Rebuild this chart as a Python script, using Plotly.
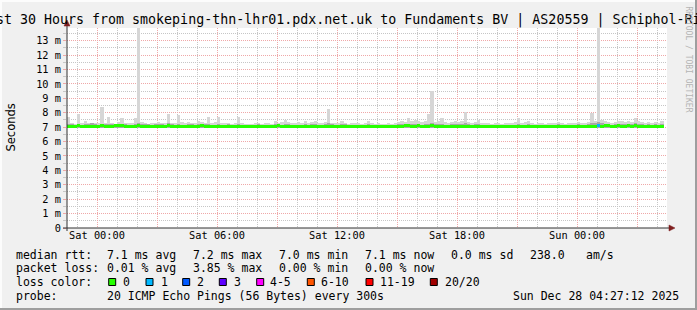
import plotly.graph_objects as go
import pandas as pd

# ---------------- data ----------------
series_start = "2025-12-26 22:35"   # centre of first 10-minute interval
step = "10min"
x_range = ["2025-12-26 22:30", "2025-12-28 04:30"]

# upper edge of the smoke (ms)
rtt_hi = [
    7.7, 7.3, 7.25, 7.9, 7.3, 7.4,
    7.28, 7.25, 7.3, 7.32, 8.4, 7.3,
    7.7, 7.3, 7.25, 7.35, 7.6, 7.3,
    7.28, 7.3, 7.6, 13.9, 7.35, 7.3,
    7.25, 7.3, 7.28, 7.35, 7.3, 7.32,
    7.9, 7.3, 7.3, 7.85, 7.35, 7.3,
    7.35, 7.3, 7.3, 7.4, 7.35, 7.3,
    7.67, 7.3, 7.35, 7.7, 7.3, 7.28,
    7.3, 7.25, 7.3, 7.67, 7.3, 7.25,
    7.2, 7.25, 7.3, 7.28, 7.25, 7.3,
    7.3, 7.25, 7.4, 7.3, 7.35, 7.5,
    7.35, 7.3, 7.3, 7.35, 7.3, 7.45,
    7.3, 7.35, 7.4, 7.3, 7.3, 7.35,
    8.27, 7.3, 7.3, 7.3, 7.4, 7.3,
    7.25, 7.3, 7.28, 7.3, 7.25, 7.3,
    7.4, 7.3, 7.25, 7.3, 7.25, 7.2,
    7.3, 7.25, 7.3, 7.35, 7.4, 7.35,
    7.6, 7.4, 7.5, 7.4, 7.35, 7.4,
    7.9, 9.54, 7.35, 7.4, 7.6, 7.35,
    7.3, 7.35, 7.4, 7.35, 7.4, 8.08,
    7.35, 7.3, 7.35, 7.5, 7.3, 7.28,
    7.3, 7.25, 7.3, 7.28, 7.25, 7.3,
    7.3, 7.28, 7.35, 7.6, 7.3, 7.35,
    7.43, 7.3, 7.25, 7.3, 7.28, 7.25,
    7.3, 7.28, 7.3, 7.35, 7.3, 7.25,
    7.3, 7.28, 7.3, 7.38, 7.3, 7.28,
    7.35, 7.97, 7.45, 13.9, 7.5, 7.4,
    7.35, 7.3, 7.35, 7.4, 7.43, 7.35,
    7.4, 7.35, 7.6, 7.4, 7.35, 7.3,
    7.35, 7.3, 7.35, 7.3, 7.43,
]

# upper edge of the dense (darker) smoke (ms)
rtt_mid = [
    7.25, 7.22, 7.15, 7.18, 7.15, 7.2,
    7.25, 7.28, 7.22, 7.15, 7.2, 7.22,
    7.25, 7.22, 7.15, 7.22, 7.25, 7.2,
    7.15, 7.18, 7.22, 7.3, 7.25, 7.22,
    7.2, 7.15, 7.22, 7.25, 7.2, 7.15,
    7.28, 7.2, 7.15, 7.22, 7.15, 7.18,
    7.22, 7.25, 7.15, 7.2, 7.22, 7.25,
    7.22, 7.15, 7.18, 7.22, 7.15, 7.15,
    7.2, 7.15, 7.18, 7.22, 7.15, 7.15,
    7.15, 7.18, 7.15, 7.2, 7.15, 7.15,
    7.15, 7.15, 7.22, 7.2, 7.15, 7.22,
    7.2, 7.15, 7.15, 7.18, 7.15, 7.25,
    7.15, 7.2, 7.22, 7.15, 7.15, 7.2,
    7.28, 7.2, 7.15, 7.15, 7.22, 7.2,
    7.15, 7.15, 7.18, 7.15, 7.15, 7.15,
    7.2, 7.15, 7.15, 7.15, 7.18, 7.15,
    7.15, 7.15, 7.18, 7.22, 7.25, 7.2,
    7.25, 7.22, 7.25, 7.2, 7.18, 7.22,
    7.25, 7.3, 7.22, 7.2, 7.22, 7.18,
    7.15, 7.2, 7.22, 7.2, 7.22, 7.28,
    7.22, 7.15, 7.2, 7.22, 7.15, 7.15,
    7.15, 7.15, 7.18, 7.15, 7.15, 7.15,
    7.15, 7.15, 7.18, 7.22, 7.15, 7.18,
    7.22, 7.15, 7.15, 7.15, 7.15, 7.15,
    7.15, 7.15, 7.15, 7.2, 7.15, 7.15,
    7.15, 7.15, 7.15, 7.2, 7.15, 7.15,
    7.2, 7.3, 7.28, 7.35, 7.3, 7.22,
    7.2, 7.15, 7.2, 7.22, 7.25, 7.2,
    7.22, 7.2, 7.28, 7.22, 7.2, 7.15,
    7.2, 7.15, 7.2, 7.15, 7.22,
]

# lower edge of the smoke (ms)
rtt_lo = [
    6.95, 6.97, 6.96, 6.95, 6.97, 6.96,
    6.94, 6.93, 6.95, 6.97, 6.96, 6.97,
    6.95, 6.96, 6.97, 6.95, 6.96, 6.97,
    6.97, 6.96, 6.95, 6.94, 6.93, 6.95,
    6.94, 6.96, 6.97, 6.96, 6.97, 6.96,
    6.95, 6.97, 6.97, 6.96, 6.97, 6.97,
    6.96, 6.95, 6.97, 6.97, 6.96, 6.95,
    6.96, 6.97, 6.97, 6.96, 6.97, 6.97,
    6.97, 6.97, 6.96, 6.95, 6.97, 6.97,
    6.97, 6.96, 6.97, 6.97, 6.97, 6.96,
    6.97, 6.97, 6.96, 6.95, 6.97, 6.96,
    6.97, 6.96, 6.97, 6.97, 6.96, 6.95,
    6.97, 6.97, 6.96, 6.97, 6.97, 6.96,
    6.95, 6.96, 6.97, 6.97, 6.96, 6.97,
    6.97, 6.97, 6.96, 6.97, 6.97, 6.97,
    6.96, 6.97, 6.97, 6.97, 6.96, 6.97,
    6.97, 6.97, 6.96, 6.95, 6.94, 6.96,
    6.95, 6.96, 6.95, 6.96, 6.97, 6.96,
    6.95, 6.94, 6.96, 6.97, 6.96, 6.97,
    6.97, 6.96, 6.95, 6.96, 6.95, 6.94,
    6.96, 6.97, 6.97, 6.96, 6.97, 6.97,
    6.97, 6.97, 6.96, 6.97, 6.97, 6.97,
    6.97, 6.96, 6.97, 6.96, 6.97, 6.96,
    6.95, 6.94, 6.95, 6.97, 6.96, 6.97,
    6.97, 6.96, 6.95, 6.96, 6.97, 6.97,
    6.97, 6.96, 6.97, 6.96, 6.97, 6.97,
    6.96, 6.95, 6.94, 6.93, 6.95, 6.96,
    6.96, 6.97, 6.96, 6.95, 6.96, 6.97,
    6.96, 6.97, 6.95, 6.96, 6.97, 6.97,
    6.96, 6.97, 6.96, 6.97, 6.96,
]

# median round-trip time (ms)
rtt_median = [
    7.07, 7.07, 7.07, 7.08, 7.07, 7.07,
    7.06, 7.07, 7.07, 7.07, 7.08, 7.07,
    7.07, 7.07, 7.08, 7.09, 7.08, 7.07,
    7.07, 7.07, 7.07, 7.08, 7.07, 7.07,
    7.07, 7.06, 7.07, 7.07, 7.07, 7.07,
    7.08, 7.07, 7.07, 7.07, 7.07, 7.06,
    7.07, 7.07, 7.07, 7.07, 7.08, 7.07,
    7.07, 7.07, 7.07, 7.07, 7.06, 7.07,
    7.07, 7.07, 7.07, 7.07, 7.07, 7.07,
    7.06, 7.07, 7.07, 7.07, 7.07, 7.07,
    7.07, 7.07, 7.07, 7.08, 7.07, 7.07,
    7.07, 7.07, 7.06, 7.07, 7.07, 7.07,
    7.07, 7.07, 7.07, 7.07, 7.06, 7.07,
    7.07, 7.07, 7.07, 7.07, 7.07, 7.07,
    7.07, 7.06, 7.07, 7.07, 7.07, 7.07,
    7.07, 7.07, 7.07, 7.06, 7.06, 7.07,
    7.07, 7.07, 7.07, 7.07, 7.07, 7.08,
    7.08, 7.07, 7.07, 7.08, 7.07, 7.07,
    7.07, 7.08, 7.07, 7.07, 7.07, 7.07,
    7.06, 7.07, 7.07, 7.07, 7.07, 7.07,
    7.07, 7.07, 7.07, 7.07, 7.06, 7.07,
    7.07, 7.07, 7.07, 7.07, 7.07, 7.07,
    7.07, 7.07, 7.07, 7.07, 7.07, 7.07,
    7.05, 7.04, 7.05, 7.06, 7.07, 7.04,
    7.04, 7.06, 7.07, 7.07, 7.07, 7.07,
    7.06, 7.07, 7.07, 7.07, 7.07, 7.06,
    7.05, 7.07, 7.07, 7.08, 7.07, 7.08,
    7.08, 7.07, 7.07, 7.08, 7.07, 7.07,
    7.08, 7.07, 7.08, 7.07, 7.07, 7.07,
    7.07, 7.07, 7.07, 7.07, 7.07,
]

# packets lost per interval (of 20)
loss = [0] * 159 + [1] + [0] * 19

y_ticks = [0, 1, 2, 3, 4, 5, 6, 7, 8, 9, 10, 11, 12, 13]
y_labels = ["0", "1 m", "2 m", "3 m", "4 m", "5 m", "6 m", "7 m", "8 m",
            "9 m", "10 m", "11 m", "12 m", "13 m"]
x_ticks = ["2025-12-27 00:00", "2025-12-27 03:00", "2025-12-27 06:00",
           "2025-12-27 09:00", "2025-12-27 12:00", "2025-12-27 15:00",
           "2025-12-27 18:00", "2025-12-27 21:00", "2025-12-28 00:00",
           "2025-12-28 03:00"]
x_labels = ["Sat 00:00", "", "Sat 06:00", "", "Sat 12:00", "",
            "Sat 18:00", "", "Sun 00:00", ""]

loss_labels = ["0", "1", "2", "3", "4-5", "6-10", "11-19", "20/20"]
loss_colors = ["#26ff00", "#00b8ff", "#0059ff", "#5e00ff",
               "#ff00ff", "#ff5500", "#ff0000", "#a10000"]

title_text = "st 30 Hours from smokeping-thn-lhr01.pdx.net.uk to Fundaments BV | AS20559 | Schiphol-Ri"
rtt_stats = ["7.1 ms avg", "7.2 ms max", "7.0 ms min", "7.1 ms now", "0.0 ms sd", "238.0", "am/s"]
loss_stats = ["0.01 % avg", "3.85 % max", "0.00 % min", "0.00 % now"]
probe_text = "20 ICMP Echo Pings (56 Bytes) every 300s"
stamp_text = "Sun Dec 28 04:27:12 2025"

# ---------------- figure ----------------
W, H = 697, 310
L, R, T, B = 67, 30, 28, 82
PW, PH = W - L - R, H - T - B


def px(x):
    return (x - L) / PW


def py(y):
    return (H - B - y) / PH


times = pd.date_range(series_start, periods=len(rtt_hi), freq=step)
bar_w = 600000  # 10 minutes in ms

fig = go.Figure()
fig.add_trace(go.Bar(x=times, y=[h - l for h, l in zip(rtt_hi, rtt_lo)], base=rtt_lo,
                     width=bar_w, marker=dict(color="#d6d6d6", line=dict(width=0)),
                     hoverinfo="skip"))
fig.add_trace(go.Bar(x=times, y=[m - l for m, l in zip(rtt_mid, rtt_lo)], base=rtt_lo,
                     width=bar_w, marker=dict(color="#a8a8a8", line=dict(width=0)),
                     hoverinfo="skip"))
line_half = 0.104
fig.add_trace(go.Bar(x=times, y=[2 * line_half] * len(rtt_median),
                     base=[m - line_half for m in rtt_median], width=bar_w,
                     marker=dict(color=[loss_colors[min(v, 1)] for v in loss], line=dict(width=0)),
                     hoverinfo="skip"))

mono = "DejaVu Sans Mono"
red_grid = "#efa8a8"
grey_grid = "#c6c6c6"

fig.update_layout(
    width=W, height=H,
    margin=dict(l=L, r=R, t=T, b=B, pad=0),
    paper_bgcolor="#f0f0f0", plot_bgcolor="#ffffff",
    barmode="overlay", bargap=0, showlegend=False,
    font=dict(family=mono, size=10.3, color="#000000"),
)
fig.update_xaxes(
    type="date", range=x_range,
    tickmode="array", tickvals=x_ticks, ticktext=x_labels,
    showgrid=True, gridcolor=red_grid, griddash="1px,1px", gridwidth=1,
    ticks="", showline=False, zeroline=False,
    tickfont=dict(family=mono, size=10.3, color="#000000"),
    minor=dict(dtick=3600000, tick0="2025-12-26 23:00", showgrid=True,
               gridcolor=grey_grid, griddash="1px,1px", gridwidth=1),
)
fig.update_yaxes(
    range=[0, 13.88], tickmode="array", tickvals=y_ticks, ticktext=y_labels,
    showgrid=True, gridcolor=red_grid, griddash="1px,1px", gridwidth=1,
    ticks="outside", ticklen=3, tickcolor=red_grid, tickwidth=1,
    showline=False, zeroline=False,
    tickfont=dict(family=mono, size=10.3, color="#000000"),
    minor=dict(dtick=0.5, tick0=0, showgrid=True, gridcolor=grey_grid,
               griddash="1px,1px", gridwidth=1, ticks="outside", ticklen=3,
               tickcolor=grey_grid),
)

ann = []


def text(s, x, y, size=11.5, family=mono, color="#000000", anchor="left", angle=0):
    ann.append(dict(text=s, x=px(x), y=py(y), xref="paper", yref="paper",
                    xanchor=anchor, yanchor="middle", showarrow=False,
                    borderpad=0, borderwidth=0, textangle=angle,
                    font=dict(family=family, size=size, color=color)))


text(title_text, -4.5, 19.5, size=13.3)
text("RRDTOOL / TOBI OETIKER", 688.5, 59, size=8, color="#b4b4b4", anchor="center", angle=90)
text("Seconds", 10.5, 128, size=11.5, family="DejaVu Sans", anchor="center", angle=-90)

col_x = [107.3, 193.0, 279.3, 365.3, 451.3, 530.3, 586.3]
ly = [254.5, 268.3, 282.0, 295.6]
text("median rtt:", 15.5, ly[0])
for s, x in zip(rtt_stats, col_x):
    text(s, x - 0.5, ly[0])
text("packet loss:", 15.5, ly[1])
for s, x in zip(loss_stats, col_x):
    text(s, x - 0.5, ly[1])
text("loss color:", 15.5, ly[2])
box_x = [108.7, 146.0, 182.7, 219.3, 256.7, 307.3, 366.0, 430.3]
lab_x = [123.3, 161.0, 197.7, 234.3, 270.7, 321.7, 380.3, 445.3]
shapes = []
for lab, col, bx, lx in zip(loss_labels, loss_colors, box_x, lab_x):
    shapes.append(dict(type="rect", xref="paper", yref="paper",
                       x0=px(bx), x1=px(bx + 7), y0=py(278.5), y1=py(285.5),
                       fillcolor=col, line=dict(color="#000000", width=1)))
    text(lab, lx - 0.5, ly[2])
text("probe:", 15.5, ly[3])
text(probe_text, 106.8, ly[3])
text(stamp_text, 512.5, ly[3])

# frame
shade_a, shade_b = "#fcfcfc", "#9e9e9e"
shapes += [
    dict(type="rect", xref="paper", yref="paper", x0=px(0), x1=px(W), y0=py(0), y1=py(2),
         fillcolor=shade_a, line=dict(width=0), layer="below"),
    dict(type="rect", xref="paper", yref="paper", x0=px(0), x1=px(2), y0=py(0), y1=py(H),
         fillcolor=shade_a, line=dict(width=0), layer="below"),
    dict(type="rect", xref="paper", yref="paper", x0=px(0), x1=px(W), y0=py(H - 2), y1=py(H),
         fillcolor=shade_b, line=dict(width=0)),
    dict(type="rect", xref="paper", yref="paper", x0=px(W - 2), x1=px(W), y0=py(0), y1=py(H),
         fillcolor=shade_b, line=dict(width=0)),
]
# axes with arrows
axis_col, arrow_col = "#303030", "#7f1f1f"
shapes += [
    dict(type="line", xref="paper", yref="paper", x0=px(67), x1=px(67), y0=py(231), y1=py(22),
         line=dict(color=axis_col, width=1)),
    dict(type="line", xref="paper", yref="paper", x0=px(63), x1=px(671), y0=py(228), y1=py(228),
         line=dict(color=axis_col, width=1)),
    dict(type="path", xref="paper", yref="paper",
         path=f"M {px(64)},{py(26)} L {px(70)},{py(26)} L {px(67)},{py(20)} Z",
         fillcolor=arrow_col, line=dict(color=arrow_col, width=0.5)),
    dict(type="path", xref="paper", yref="paper",
         path=f"M {px(669)},{py(225)} L {px(669)},{py(231)} L {px(675)},{py(228)} Z",
         fillcolor=arrow_col, line=dict(color=arrow_col, width=0.5)),
]

fig.update_layout(annotations=ann, shapes=shapes)
fig.write_html("out.html")
